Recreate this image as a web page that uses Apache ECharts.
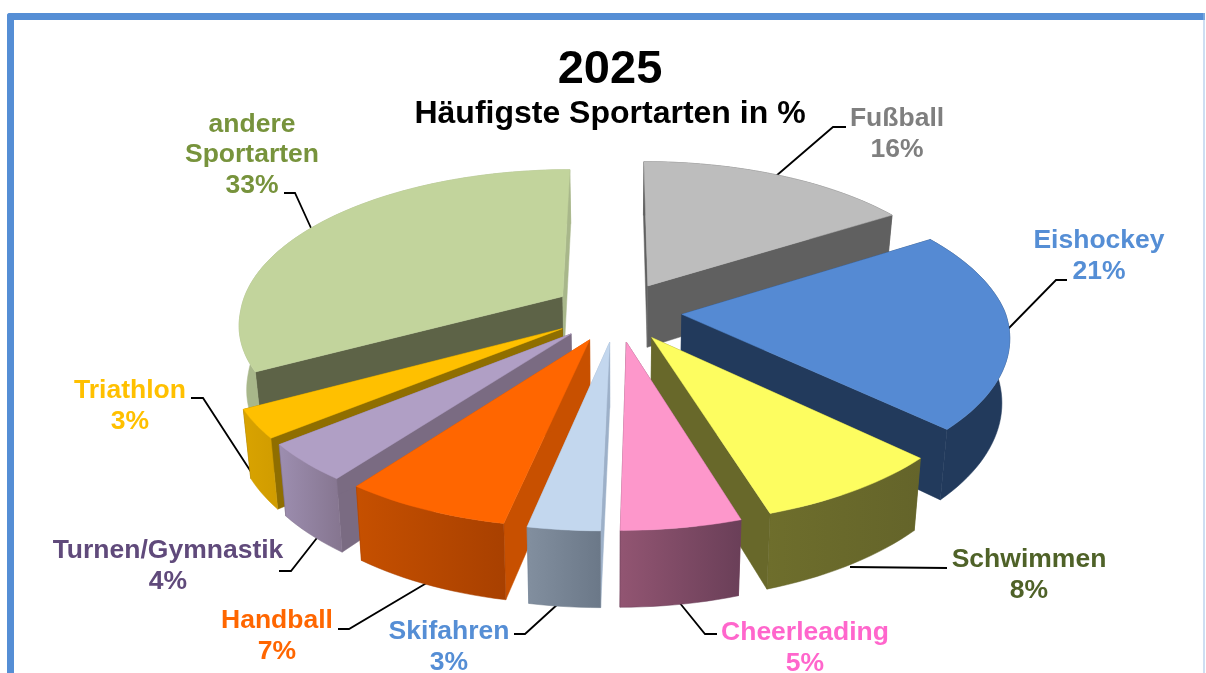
<!DOCTYPE html>
<html><head><meta charset="utf-8">
<style>html,body{margin:0;padding:0;background:#fff}#c{width:1206px;height:673px}</style>
<script src="https://cdn.jsdelivr.net/npm/echarts@6/dist/echarts.min.js"></script>
</head><body><div id="c"></div>
<script>
const categories=['Fußball','Eishockey','Schwimmen','Cheerleading','Skifahren','Handball','Turnen/Gymnastik','Triathlon','andere Sportarten'];
const shares=[16,21,8,5,3,7,4,3,33];
const labelLines=[['Fußball','16%'],['Eishockey','21%'],['Schwimmen','8%'],['Cheerleading','5%'],['Skifahren','3%'],['Handball','7%'],['Turnen/Gymnastik','4%'],['Triathlon','3%'],['andere','Sportarten','33%']];
const labelColors=['#7F7F7F','#558ED5','#4F6228','#FF66CC','#558ED5','#FF6600','#604A7B','#FFC000','#77933C'];
const labelCenters=[[897,134],[1099,256],[1029,575],[805,648],[449,647],[277,636],[168,566],[130,406],[252,155]];
const leaders=[[[846,127],[833,127],[776,176]],[[1067,280],[1056,280],[1008,329]],[[947,568],[850,567]],[[717,634],[705,634],[679,602]],[[514,634],[525,634],[559,603]],[[338,629],[349,629],[430,581]],[[279,571],[291,571],[320,534]],[[191,398],[203,398],[268,498]],[[284,193],[295,193],[311,228]]];
const topColors=['#BDBDBD','#558AD3','#FDFD60','#FD97CB','#C3D7EE','#FF6600','#B09FC5','#FFC000','#C2D49C'];
const startFaceColors=['#606060','#223A5C','#68682A','#7A4560','#9DB0C8','#C85000','#7A6B82','#8F6E00','#5D6347'];
const endFaceColors=['#606060','#223A5C','#68682A','#7A4560','#9DB0C8','#C85000','#7A6B82','#8F6E00','#A8B78A'];
const wallColors=[['#606060','#606060'],['#223A5C','#223A5C'],['#6E6E2C','#64642A'],['#925572','#6A3F58'],['#828F9F','#6B7888'],['#C65000','#A84000'],['#9D8EB0','#85758F'],['#D9A300','#D09C00'],['#A8B78A','#A8B78A']];

const cx=617.5,cy=311.5,R=323,tiltR=150,persp=0.15,H=63,explode=0.2,frontSkew=8;
function project(X,Y,Z){
  const s=1/(1-persp*Y);
  return [cx+X*R*s*(1-0.02*Z)-frontSkew*Math.max(0,Y),cy+Y*tiltR*s+Z*H*s];
}
const total=shares.reduce((a,b)=>a+b,0);
const startAngles=[];let acc=0;
shares.forEach(v=>{startAngles.push(acc/total*2*Math.PI);acc+=v;});
const midY=shares.map((v,i)=>-Math.cos(startAngles[i]+v/total*Math.PI));
const depthRank=shares.map((v,i)=>i).sort((a,b)=>midY[a]-midY[b]);

function renderSlice(params,api){
  const i=params.dataIndex,val=api.value(0);
  const a0=startAngles[i],a1=a0+val/total*2*Math.PI,m=(a0+a1)/2;
  const ox=Math.sin(m)*explode,oy=-Math.cos(m)*explode;
  const n=Math.max(4,Math.ceil((a1-a0)/0.03));
  const rim=(z)=>{const p=[];for(let k=0;k<=n;k++){const a=a0+(a1-a0)*k/n;p.push(project(ox+Math.sin(a),oy-Math.cos(a),z));}return p;};
  const apex=(z)=>project(ox,oy,z);
  const topRim=rim(0),botRim=rim(1),z=depthRank.indexOf(i)*10;
  const poly=(points,fill,z2,stroke)=>({type:'polygon',shape:{points},z2:z+z2,style:{fill,stroke:stroke,lineWidth:0.5}});
  return {type:'group',children:[
    poly([apex(0),topRim[0],botRim[0],apex(1)],startFaceColors[i],1,startFaceColors[i]),
    poly([apex(0),topRim[n],botRim[n],apex(1)],endFaceColors[i],2,endFaceColors[i]),
    poly(topRim.concat(botRim.slice().reverse()),{type:'linear',x:0,y:0,x2:1,y2:0,colorStops:[{offset:0,color:wallColors[i][0]},{offset:1,color:wallColors[i][1]}]},3,wallColors[i][1]),
    poly([apex(0)].concat(topRim),topColors[i],4,topColors[i])
  ]};
}
const font='"Liberation Sans",Arial,sans-serif';
const graphics=[
  {type:'rect',shape:{x:7,y:13,width:1198,height:7,r:[3,0,0,0]},style:{fill:'#558ED5'},z:0},
  {type:'rect',shape:{x:7,y:13,width:7,height:660,r:[3,0,0,0]},style:{fill:'#558ED5'},z:0},
  {type:'rect',shape:{x:1203.5,y:13,width:1,height:660},style:{fill:'#9DBDE6'},z:0}
];
leaders.forEach(points=>graphics.push({type:'polyline',shape:{points},style:{fill:null,stroke:'#000',lineWidth:1.8},z:0}));
labelLines.forEach((l,i)=>graphics.push({type:'text',x:labelCenters[i][0],y:labelCenters[i][1],z:20,style:{text:l.join('\n'),fill:labelColors[i],font:'bold 26.5px '+font,align:'center',verticalAlign:'middle',lineHeight:30.5}}));

const chart=echarts.init(document.getElementById('c'),null,{renderer:'canvas'});
chart.setOption({
  animation:false,
  backgroundColor:'#fff',
  title:[
    {text:'2025',left:605,top:42,textAlign:'center',textStyle:{fontFamily:font,fontWeight:'bold',fontSize:47,color:'#000'}},
    {text:'Häufigste Sportarten in %',left:605,top:93,textAlign:'center',textStyle:{fontFamily:font,fontWeight:'bold',fontSize:32,color:'#000'}}
  ],
  graphic:graphics,
  series:[{type:'custom',z:5,coordinateSystem:'none',renderItem:renderSlice,data:shares.map((v,i)=>({name:categories[i],value:[v]})),encode:{value:0},silent:true}]
});
</script></body></html>
